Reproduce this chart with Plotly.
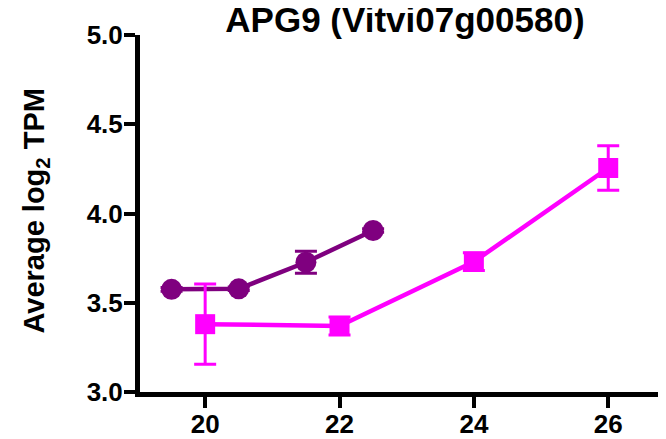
import plotly.graph_objects as go

title_text = "APG9 (Vitvi07g00580)"
y_title = "Average log<sub>2</sub> TPM"

purple_x = [19.5, 20.5, 21.5, 22.5]
purple_y = [3.575, 3.578, 3.727, 3.905]
purple_err = [0.01, 0.01, 0.062, 0.01]

magenta_x = [20, 22, 24, 26]
magenta_y = [3.38, 3.37, 3.73, 4.255]
magenta_err = [0.225, 0.05, 0.05, 0.125]

x_ticks = [20, 22, 24, 26]
y_ticks = [3.0, 3.5, 4.0, 4.5, 5.0]

PURPLE = "#7F007F"
MAGENTA = "#FF00FF"
FONT = "Liberation Sans"

fig = go.Figure()
fig.add_trace(go.Scatter(
    x=purple_x, y=purple_y, mode="lines+markers",
    line=dict(color=PURPLE, width=4.5),
    marker=dict(symbol="circle", size=21, color=PURPLE),
    error_y=dict(type="data", array=purple_err, color=PURPLE, thickness=3, width=11),
    cliponaxis=False, showlegend=False,
))
fig.add_trace(go.Scatter(
    x=magenta_x, y=magenta_y, mode="lines+markers",
    line=dict(color=MAGENTA, width=4.5),
    marker=dict(symbol="square", size=20, color=MAGENTA),
    error_y=dict(type="data", array=magenta_err, color=MAGENTA, thickness=3, width=11),
    cliponaxis=False, showlegend=False,
))

fig.update_layout(
    width=658, height=431,
    margin=dict(l=132, r=0, t=27, b=47, autoexpand=False),
    paper_bgcolor="white", plot_bgcolor="white",
    title=dict(text=title_text, x=0.6033, xanchor="center", xref="container",
               y=0.972, yanchor="middle", yref="container",
               font=dict(family=FONT, size=35, color="black", weight="bold"),
               automargin=False),
    xaxis=dict(range=[19.03, 26.86], tickvals=x_ticks, ticktext=[str(v) for v in x_ticks],
               showgrid=False, zeroline=False, showline=True, linecolor="black", linewidth=5,
               ticks="outside", ticklen=11, tickwidth=4, tickcolor="black", automargin=False,
               ticklabelstandoff=-6,
               tickfont=dict(family=FONT, size=26, color="black", weight="bold")),
    yaxis=dict(range=[3.0, 5.0], tickvals=y_ticks, ticktext=[f"{v:.1f}" for v in y_ticks],
               showgrid=False, zeroline=False, showline=True, linecolor="black", linewidth=5,
               ticks="outside", ticklen=11, tickwidth=4, tickcolor="black", automargin=False,
               ticklabelstandoff=-4,
               tickfont=dict(family=FONT, size=26, color="black", weight="bold")),
    annotations=[dict(text=y_title, textangle=-90, xref="paper", yref="paper",
                      x=-0.1985, y=0.507, xanchor="center", yanchor="middle", showarrow=False,
                      font=dict(family=FONT, size=29, color="black", weight="bold"))],
)

fig.write_html("out.html")
